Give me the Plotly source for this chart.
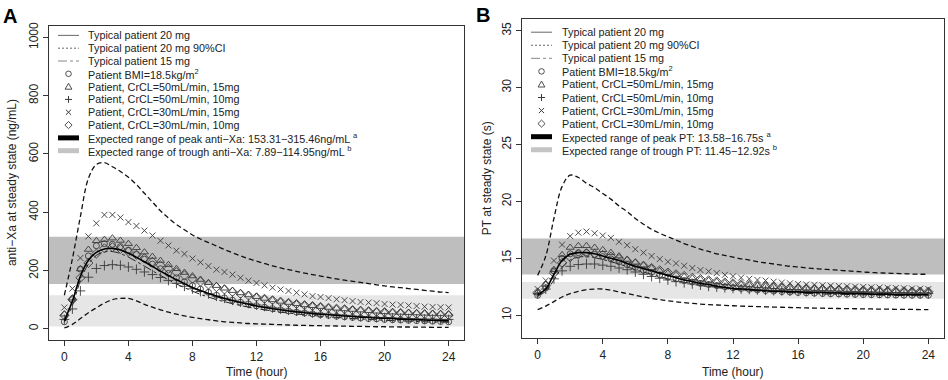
import plotly.graph_objects as go

# ---------------- data ----------------
TIME_H = [0, 0.5, 1, 1.5, 2, 2.5, 3, 3.5, 4, 4.5, 5, 5.5, 6, 6.5, 7, 7.5, 8, 8.5, 9, 9.5,
          10, 10.5, 11, 11.5, 12, 12.5, 13, 13.5, 14, 14.5, 15, 15.5, 16, 16.5, 17, 17.5,
          18, 18.5, 19, 19.5, 20, 20.5, 21, 21.5, 22, 22.5, 23, 23.5, 24]
X_TICKS = [0, 4, 8, 12, 16, 20, 24]

# Panel A: anti-Xa (ng/mL)
A_TYP20 = [27, 95, 180, 235, 262, 274, 276, 270, 259, 245, 230, 214, 198, 183, 168, 155, 142, 131, 121, 112,
           104, 97, 90, 84, 78, 73, 69, 65, 61, 58, 55, 52, 50, 48, 46, 44, 42, 40, 39, 37,
           36, 35, 33, 32, 31, 30, 29, 28, 27]
A_CI_HI = [115, 240, 385, 516, 564, 570, 556, 540, 520, 495, 465, 435, 405, 380, 358, 340, 322, 308, 296, 284,
           272, 261, 250, 240, 232, 224, 216, 209, 203, 197, 191, 186, 181, 176, 171, 167, 163, 159, 155, 151,
           147, 144, 141, 138, 135, 132, 129, 126, 124]
A_CI_LO = [3, 15, 35, 55, 72, 88, 100, 104, 104, 96, 84, 74, 65, 57, 50, 44, 39, 35, 31, 27,
           24, 22, 20, 18, 17, 16, 15, 14, 13, 12, 11.5, 11, 10.5, 10, 9.5, 9, 8.5, 8, 7.5, 7,
           7, 6.5, 6, 6, 5.5, 5.5, 5, 5, 5]
A_TYP15 = [22, 80, 165, 222, 252, 264, 265, 258, 246, 231, 215, 199, 183, 168, 154, 141, 129, 118, 109, 100,
           93, 86, 80, 74, 69, 65, 61, 57, 54, 51, 48, 46, 43, 41, 39, 37, 35, 34, 32, 31,
           29, 28, 27, 26, 25, 24, 23, 23, 22]
A_BMI = [24, 100, 205, 250, 285, 292, 290, 282, 270, 255, 239, 222, 206, 190, 175, 161, 148, 136, 125, 115,
         106, 98, 91, 85, 79, 74, 69, 65, 61, 57, 54, 51, 48, 46, 43, 41, 39, 37, 35, 34,
         32, 31, 30, 29, 28, 27, 26, 25, 24]
A_C50_15 = [50, 105, 205, 272, 302, 306, 311, 303, 292, 278, 263, 248, 234, 220, 206, 193, 181, 169, 158, 148,
            139, 131, 123, 116, 110, 104, 99, 94, 90, 86, 82, 79, 76, 73, 70, 68, 66, 64, 62, 60,
            58, 57, 56, 55, 54, 53, 52, 51, 50]
A_C50_10 = [32, 68, 130, 177, 207, 217, 220, 218, 212, 204, 195, 186, 176, 166, 156, 146, 137, 128, 120, 112,
            105, 98, 92, 87, 82, 77, 72, 68, 64, 61, 58, 55, 52, 50, 48, 46, 44, 42, 40, 39,
            38, 37, 36, 35, 34, 33, 33, 32, 32]
A_C30_15 = [73, 138, 243, 317, 362, 391, 391, 382, 366, 353, 337, 320, 302, 286, 268, 257, 241, 228, 215, 203,
            195, 186, 175, 165, 157, 149, 141, 135, 130, 124, 118, 112, 109, 105, 101, 98, 95, 92, 90, 88,
            85, 83, 82, 80, 78, 76, 75, 74, 73]
A_C30_10 = [46, 100, 175, 226, 258, 276, 280, 274, 265, 254, 242, 230, 218, 206, 194, 183, 172, 162, 152, 143,
            135, 127, 120, 114, 108, 103, 98, 93, 89, 85, 81, 78, 75, 72, 69, 67, 64, 62, 60, 58,
            57, 55, 54, 52, 51, 50, 49, 48, 47]
A_PEAK = [153.31, 315.46]
A_TROUGH = [7.89, 114.95]
A_Y_TICKS = [0, 200, 400, 600, 800, 1000]

# Panel B: PT (s)
B_TYP20 = [11.8, 12.3, 13.6, 14.8, 15.35, 15.5, 15.5, 15.4, 15.2, 15.0, 14.8, 14.55, 14.3, 14.1, 13.9, 13.7,
           13.5, 13.3, 13.1, 12.95, 12.8, 12.7, 12.55, 12.45, 12.35, 12.3, 12.25, 12.2, 12.15, 12.1, 12.1,
           12.05, 12.05, 12.0, 12.0, 12.0, 11.95, 11.95, 11.9, 11.9, 11.9, 11.85, 11.85, 11.85, 11.8, 11.8,
           11.8, 11.8, 11.8]
B_CI_HI = [13.5, 15.2, 18.5, 21.3, 22.3, 22.1, 21.6, 21.2, 20.7, 20.2, 19.6, 19.1, 18.5, 18.0, 17.55, 17.2,
           16.9, 16.6, 16.3, 16.05, 15.8, 15.6, 15.4, 15.25, 15.1, 14.95, 14.85, 14.7, 14.6, 14.5, 14.4,
           14.3, 14.25, 14.15, 14.1, 14.05, 14.0, 13.95, 13.9, 13.85, 13.8, 13.75, 13.72, 13.7, 13.67, 13.65,
           13.62, 13.6, 13.6]
B_CI_LO = [10.5, 10.8, 11.2, 11.6, 11.9, 12.1, 12.25, 12.3, 12.3, 12.2, 12.05, 11.9, 11.75, 11.6, 11.48, 11.37,
           11.27, 11.18, 11.1, 11.04, 10.98, 10.93, 10.9, 10.86, 10.83, 10.8, 10.78, 10.76, 10.74, 10.72, 10.7,
           10.68, 10.66, 10.64, 10.63, 10.62, 10.6, 10.59, 10.58, 10.57, 10.56, 10.55, 10.54, 10.53, 10.52,
           10.52, 10.51, 10.5, 10.5]
B_TYP15 = [11.7, 12.1, 13.1, 14.2, 14.85, 15.1, 15.15, 15.05, 14.9, 14.7, 14.5, 14.25, 14.0, 13.8, 13.6, 13.4,
           13.2, 13.05, 12.9, 12.75, 12.62, 12.52, 12.43, 12.35, 12.28, 12.22, 12.17, 12.12, 12.08, 12.04, 12.0,
           11.97, 11.95, 11.92, 11.9, 11.87, 11.85, 11.83, 11.82, 11.8, 11.79, 11.78, 11.76, 11.75, 11.74,
           11.73, 11.72, 11.71, 11.7]
B_BMI = [11.75, 12.4, 13.9, 15.0, 15.4, 15.5, 15.5, 15.35, 15.15, 14.95, 14.7, 14.45, 14.2, 13.95, 13.75, 13.55,
         13.35, 13.2, 13.05, 12.92, 12.8, 12.7, 12.6, 12.5, 12.42, 12.35, 12.28, 12.22, 12.17, 12.12, 12.08,
         12.04, 12.0, 11.97, 11.94, 11.91, 11.89, 11.87, 11.85, 11.83, 11.81, 11.8, 11.79, 11.78, 11.77,
         11.76, 11.75, 11.75, 11.75]
B_C50_15 = [12.0, 12.7, 14.0, 15.3, 15.95, 16.1, 16.1, 15.95, 15.75, 15.5, 15.2, 14.9, 14.65, 14.4, 14.15, 13.9,
            13.7, 13.55, 13.4, 13.25, 13.15, 13.05, 12.95, 12.85, 12.78, 12.7, 12.65, 12.6, 12.55, 12.5, 12.45,
            12.42, 12.4, 12.37, 12.35, 12.32, 12.3, 12.28, 12.26, 12.24, 12.22, 12.2, 12.18, 12.17, 12.15,
            12.14, 12.12, 12.11, 12.1]
B_C50_10 = [11.9, 12.3, 13.2, 13.9, 14.3, 14.45, 14.5, 14.5, 14.4, 14.3, 14.15, 14.0, 13.8, 13.6, 13.4, 13.25,
            13.1, 12.95, 12.85, 12.75, 12.65, 12.55, 12.48, 12.42, 12.36, 12.31, 12.27, 12.23, 12.2, 12.17,
            12.14, 12.12, 12.1, 12.08, 12.06, 12.04, 12.02, 12.0, 11.99, 11.98, 11.97, 11.96, 11.95, 11.94,
            11.93, 11.92, 11.91, 11.9, 11.9]
B_C30_15 = [12.3, 13.05, 14.8, 16.2, 16.95, 17.25, 17.35, 17.2, 17.0, 16.8, 16.45, 16.15, 15.8, 15.5, 15.2, 14.93,
            14.7, 14.55, 14.35, 14.15, 13.97, 13.85, 13.7, 13.55, 13.42, 13.3, 13.2, 13.1, 13.05, 12.95, 12.87,
            12.8, 12.75, 12.7, 12.67, 12.63, 12.6, 12.57, 12.54, 12.51, 12.48, 12.45, 12.43, 12.41, 12.39,
            12.37, 12.35, 12.33, 12.3]
B_C30_10 = [12.0, 12.6, 13.7, 14.6, 15.1, 15.35, 15.45, 15.4, 15.3, 15.15, 14.95, 14.75, 14.55, 14.35, 14.15, 13.95,
            13.75, 13.6, 13.45, 13.3, 13.18, 13.07, 12.97, 12.88, 12.8, 12.72, 12.66, 12.6, 12.55, 12.5, 12.45,
            12.41, 12.38, 12.35, 12.32, 12.29, 12.27, 12.25, 12.23, 12.21, 12.19, 12.17, 12.15, 12.14, 12.12,
            12.11, 12.09, 12.08, 12.07]
B_PEAK = [13.58, 16.75]
B_TROUGH = [11.45, 12.92]
B_Y_TICKS = [10, 15, 20, 25, 30, 35]

LEGEND_A = ["Typical patient 20 mg", "Typical patient 20 mg 90%CI", "Typical patient 15 mg",
            "Patient BMI=18.5kg/m<sup>2</sup>", "Patient, CrCL=50mL/min, 15mg", "Patient, CrCL=50mL/min, 10mg",
            "Patient, CrCL=30mL/min, 15mg", "Patient, CrCL=30mL/min, 10mg",
            "Expected range of peak anti\u2212Xa: 153.31\u2212315.46ng/mL <sup>a</sup>",
            "Expected range of trough anti\u2212Xa: 7.89\u2212114.95ng/mL <sup>b</sup>"]
LEGEND_B = ["Typical patient 20 mg", "Typical patient 20 mg 90%CI", "Typical patient 15 mg",
            "Patient BMI=18.5kg/m<sup>2</sup>", "Patient, CrCL=50mL/min, 15mg", "Patient, CrCL=50mL/min, 10mg",
            "Patient, CrCL=30mL/min, 15mg", "Patient, CrCL=30mL/min, 10mg",
            "Expected range of peak PT: 13.58\u221216.75s <sup>a</sup>",
            "Expected range of trough PT: 11.45\u221212.92s <sup>b</sup>"]

# ---------------- styling ----------------
W, H = 948, 380
FONT = "Liberation Sans, Arial, Helvetica, sans-serif"
INK = "#222222"
MK = "#3a3a3a"
DARK_BAND = "#BEBEBE"
LIGHT_BAND = "#E6E6E6"

def px(x):
    return x / W

def py(y):
    return 1 - y / H

fig = go.Figure()

def add_panel(xa, ya, typ20, hi, lo, typ15, bmi, c50_15, c50_10, c30_15, c30_10):
    common = dict(x=TIME_H, xaxis=xa, yaxis=ya, showlegend=False, hoverinfo="skip")
    fig.add_trace(go.Scatter(y=hi, mode="lines", line=dict(color="#111", width=1.3, dash="5px,3px", shape="spline"), **common))
    fig.add_trace(go.Scatter(y=lo, mode="lines", line=dict(color="#111", width=1.3, dash="5px,3px", shape="spline"), **common))
    fig.add_trace(go.Scatter(y=typ15, mode="lines", line=dict(color="#222", width=1, dash="dashdot", shape="spline"), **common))
    marks = [(bmi, "circle-open", 6), (c50_15, "triangle-up-open", 7), (c50_10, "cross-thin-open", 7),
             (c30_15, "x-thin-open", 6), (c30_10, "diamond-open", 7)]
    for vals, sym, sz in marks:
        fig.add_trace(go.Scatter(y=vals, mode="markers",
                                 marker=dict(symbol=sym, size=sz, color=MK, line=dict(color=MK, width=0.9)),
                                 **common))
    fig.add_trace(go.Scatter(y=typ20, mode="lines", line=dict(color="#000", width=1.6, shape="spline"), **common))

add_panel("x", "y", A_TYP20, A_CI_HI, A_CI_LO, A_TYP15, A_BMI, A_C50_15, A_C50_10, A_C30_15, A_C30_10)
add_panel("x2", "y2", B_TYP20, B_CI_HI, B_CI_LO, B_TYP15, B_BMI, B_C50_15, B_C50_10, B_C30_15, B_C30_10)

shapes = []
for xr, yr, peak, trough in [("x domain", "y", A_PEAK, A_TROUGH), ("x2 domain", "y2", B_PEAK, B_TROUGH)]:
    shapes.append(dict(type="rect", xref=xr, yref=yr, x0=0, x1=1, y0=peak[0], y1=peak[1],
                       fillcolor=DARK_BAND, line=dict(width=0), layer="below"))
    shapes.append(dict(type="rect", xref=xr, yref=yr, x0=0, x1=1, y0=trough[0], y1=trough[1],
                       fillcolor=LIGHT_BAND, line=dict(width=0), layer="below"))

annotations = []

def legend(labels, key_x0, key_x1, text_x, y0, step):
    kc = (key_x0 + key_x1) / 2
    r = 2.8
    for i, lab in enumerate(labels):
        yy = y0 + i * step
        annotations.append(dict(x=px(text_x), y=py(yy), xref="paper", yref="paper", text=lab,
                                showarrow=False, xanchor="left", yanchor="middle",
                                font=dict(family=FONT, size=10.8, color=INK)))
        L = dict(xref="paper", yref="paper")
        if i == 0:
            shapes.append(dict(type="line", x0=px(key_x0), x1=px(key_x1), y0=py(yy), y1=py(yy), line=dict(color="#666", width=1), **L))
        elif i == 1:
            shapes.append(dict(type="line", x0=px(key_x0), x1=px(key_x1), y0=py(yy), y1=py(yy), line=dict(color="#666", width=1, dash="2px,2px"), **L))
        elif i == 2:
            shapes.append(dict(type="line", x0=px(key_x0), x1=px(key_x1), y0=py(yy), y1=py(yy), line=dict(color="#888", width=1, dash="dashdot"), **L))
        elif i == 3:
            shapes.append(dict(type="circle", x0=px(kc - r), x1=px(kc + r), y0=py(yy - r), y1=py(yy + r), line=dict(color=MK, width=0.9), **L))
        elif i == 4:
            shapes.append(dict(type="path", path=f"M {px(kc-3.4)} {py(yy+2.6)} L {px(kc+3.4)} {py(yy+2.6)} L {px(kc)} {py(yy-3.4)} Z", line=dict(color=MK, width=0.9), **L))
        elif i == 5:
            shapes.append(dict(type="line", x0=px(kc - 3.5), x1=px(kc + 3.5), y0=py(yy), y1=py(yy), line=dict(color=MK, width=1), **L))
            shapes.append(dict(type="line", x0=px(kc), x1=px(kc), y0=py(yy - 3.5), y1=py(yy + 3.5), line=dict(color=MK, width=1), **L))
        elif i == 6:
            shapes.append(dict(type="line", x0=px(kc - 2.6), x1=px(kc + 2.6), y0=py(yy - 2.6), y1=py(yy + 2.6), line=dict(color=MK, width=1), **L))
            shapes.append(dict(type="line", x0=px(kc - 2.6), x1=px(kc + 2.6), y0=py(yy + 2.6), y1=py(yy - 2.6), line=dict(color=MK, width=1), **L))
        elif i == 7:
            shapes.append(dict(type="path", path=f"M {px(kc)} {py(yy-3.6)} L {px(kc+3.6)} {py(yy)} L {px(kc)} {py(yy+3.6)} L {px(kc-3.6)} {py(yy)} Z", line=dict(color=MK, width=0.9), **L))
        elif i == 8:
            shapes.append(dict(type="line", x0=px(key_x0), x1=px(key_x1), y0=py(yy), y1=py(yy), line=dict(color="#000", width=5), **L))
        elif i == 9:
            shapes.append(dict(type="line", x0=px(key_x0), x1=px(key_x1), y0=py(yy), y1=py(yy), line=dict(color="#C4C4C4", width=5), **L))

legend(LEGEND_A, 58, 79, 86, 31.7, 12.95)
legend(LEGEND_B, 531, 552, 560, 28.5, 13.2)

# axis titles and panel letters
def txt(x, y, s, size=12, angle=0):
    annotations.append(dict(x=px(x), y=py(y), xref="paper", yref="paper", text=s,
                            showarrow=False, xanchor="center", yanchor="middle", textangle=angle,
                            font=dict(family=FONT, size=size, color=INK)))

txt(257, 372, "Time (hour)")
txt(733, 372, "Time (hour)")
txt(12, 181, "anti\u2212Xa at steady state (ng/mL)", angle=-90)
txt(487, 176, "PT at steady state (s)", angle=-90)
annotations.append(dict(x=px(1), y=py(12), xref="paper", yref="paper", text="<b>A</b>", showarrow=False,
                        xanchor="left", yanchor="middle", font=dict(family=FONT, size=20, color="#000")))
annotations.append(dict(x=px(474), y=py(11), xref="paper", yref="paper", text="<b>B</b>", showarrow=False,
                        xanchor="left", yanchor="middle", font=dict(family=FONT, size=20, color="#000")))

axis_common = dict(showline=True, linecolor="#333", linewidth=1, mirror=True, ticks="outside", ticklen=5,
                   tickcolor="#333", tickwidth=1, showgrid=False, zeroline=False,
                   tickfont=dict(family=FONT, size=12, color=INK))

fig.update_layout(
    width=W, height=H, margin=dict(l=0, r=0, t=0, b=0),
    paper_bgcolor="white", plot_bgcolor="white",
    font=dict(family=FONT, color=INK),
    xaxis=dict(domain=[px(49), px(464)], range=[-0.96, 24.96], tickvals=X_TICKS, anchor="y", **axis_common),
    yaxis=dict(domain=[py(340), py(22)], range=[-40, 1040], tickvals=A_Y_TICKS, tickangle=-90, anchor="x", **axis_common),
    xaxis2=dict(domain=[px(522), px(944)], range=[-0.96, 24.96], tickvals=X_TICKS, anchor="y2", **axis_common),
    yaxis2=dict(domain=[py(338), py(15)], range=[7.96, 36.04], tickvals=B_Y_TICKS, tickangle=-90, anchor="x2", **axis_common),
    shapes=shapes, annotations=annotations, showlegend=False,
)

fig.write_html("out.html", config={"displayModeBar": False},
               post_script="document.body.style.margin='0px';document.body.style.overflow='hidden';")
